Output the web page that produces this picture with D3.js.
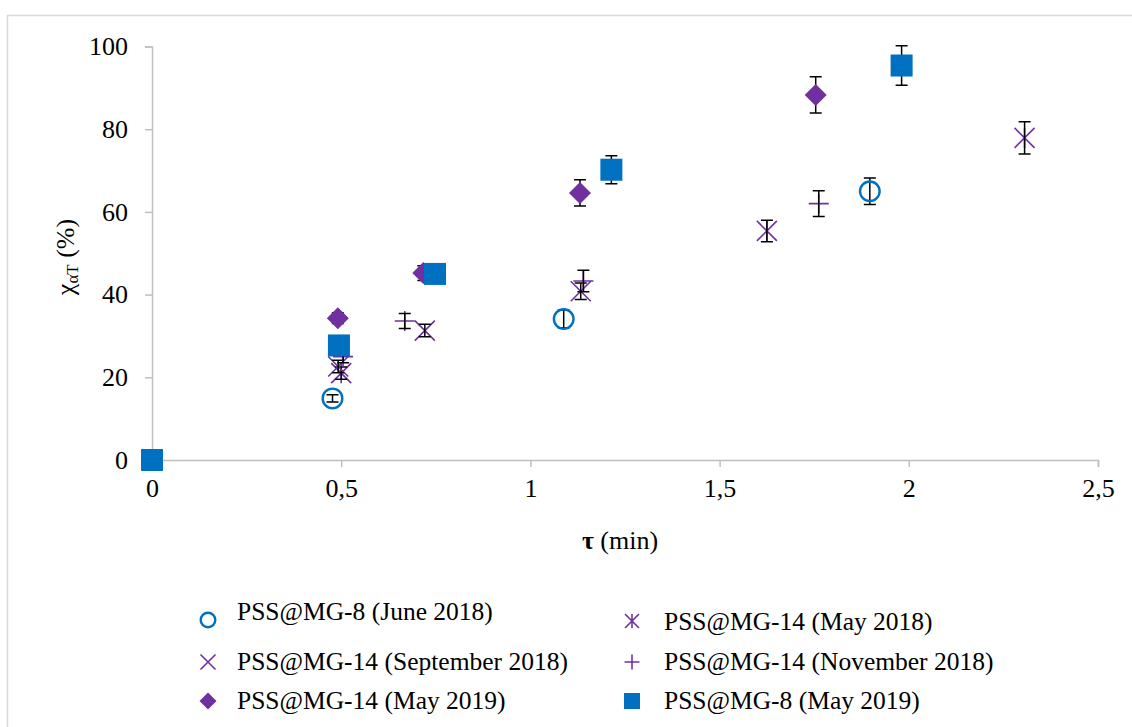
<!DOCTYPE html>
<html><head><meta charset="utf-8">
<script src="https://cdn.jsdelivr.net/npm/d3@7"></script>
<style>body{margin:0;background:#fff}
svg text, svg tspan{font-family:'Liberation Serif', serif !important}
</style>
</head><body><svg id="c" width="1132" height="727"></svg>
<script>
// Data
const seriesNames = ["PSS@MG-8 (June 2018)","PSS@MG-14 (May 2018)","PSS@MG-14 (September 2018)","PSS@MG-14 (November 2018)","PSS@MG-14 (May 2019)","PSS@MG-8 (May 2019)"];
const circleJun18 = [{x:0.477,y:14.9,e:0.9},{x:1.088,y:34.1,e:2.1},{x:1.897,y:65.0,e:3.2}];
const asteriskMay18 = [{x:0.50,y:21.0,e:1.5},{x:1.625,y:55.4,e:2.6},{x:2.306,y:77.9,e:3.9}];
const xSep18 = [{x:0.492,y:22.6,e:1.5},{x:0.721,y:31.3,e:1.5},{x:1.133,y:40.8,e:2.0}];
const plusNov18 = [{x:0.505,y:25.0,e:1.5},{x:0.668,y:33.6,e:1.8},{x:1.14,y:43.3,e:2.6},{x:1.762,y:62.0,e:3.1}];
const diamondMay19 = [{x:0.491,y:34.3,e:1.3},{x:0.717,y:45.2,e:1.8},{x:1.131,y:64.6,e:3.2},{x:1.754,y:88.3,e:4.4}];
const squareMay19 = [{x:0,y:0,e:0},{x:0.494,y:27.7,e:1.5},{x:0.748,y:45.0,e:1.5},{x:1.214,y:70.2,e:3.4},{x:1.981,y:95.4,e:4.8}];
const xTicks = [0,0.5,1,1.5,2,2.5];
const yTicks = [0,20,40,60,80,100];

const SERIF="'Liberation Serif', serif";
const blue="#0070c0", purple="#7030a0";
const svg=d3.select("#c");
svg.append("rect").attr("x",7.5).attr("y",15.5).attr("width",1140).attr("height",740).attr("fill","none").attr("stroke","#d9d9d9").attr("stroke-width",1.5);

const x=d3.scaleLinear().domain([0,2.5]).range([152,1098]);
const y=d3.scaleLinear().domain([0,100]).range([460,46.5]);

const axC="#bfbfbf";
const gx=svg.append("g").attr("transform","translate(0,460)").call(d3.axisBottom(x).tickValues(xTicks).tickSize(7).tickPadding(12).tickFormat(d=>String(d).replace(".",",")));
const gy=svg.append("g").attr("transform","translate(152,0)").call(d3.axisLeft(y).tickValues(yTicks).tickSize(7).tickPadding(17));
[gx,gy].forEach(g=>{g.attr("font-family",SERIF).attr("font-size",26);g.select(".domain").attr("stroke",axC).attr("stroke-width",1.5);g.selectAll(".tick line").attr("stroke",axC).attr("stroke-width",1.5);g.selectAll("text").attr("fill","#000").style("font-family",SERIF).style("font-size","26px");});
gx.select(".tick line").remove();
gy.selectAll(".tick").filter(d=>d===0).select("line").remove();

// axis titles
const xt=svg.append("text").attr("x",620).attr("y",549).attr("text-anchor","middle").style("font-family",SERIF).style("font-size","26px");
xt.append("tspan").attr("font-weight","bold").text("τ");
xt.append("tspan").text(" (min)");
const yt=svg.append("text").attr("transform","translate(74,257) rotate(-90)").attr("text-anchor","middle").style("font-family",SERIF).style("font-size","26px");
yt.append("tspan").text("χ");
yt.append("tspan").style("font-size","17px").attr("dy",4).text("αT");
yt.append("tspan").attr("dy",-4).text(" (%)");

// markers
function drawMarker(g,type,cx,cy,s){
  const h=s/2;
  if(type==="circle") g.append("circle").attr("cx",cx).attr("cy",cy).attr("r",h-1.2).attr("fill","none").attr("stroke",blue).attr("stroke-width",2.4);
  else if(type==="square") g.append("rect").attr("x",cx-h).attr("y",cy-h).attr("width",s).attr("height",s).attr("fill",blue);
  else if(type==="diamond") g.append("path").attr("d",`M${cx},${cy-h}L${cx+h},${cy}L${cx},${cy+h}L${cx-h},${cy}Z`).attr("fill",purple);
  else if(type==="x"||type==="asterisk"){
    g.append("path").attr("d",`M${cx-h},${cy-h}L${cx+h},${cy+h}M${cx-h},${cy+h}L${cx+h},${cy-h}`+(type==="asterisk"?`M${cx},${cy-h}L${cx},${cy+h}`:"")).attr("stroke",purple).attr("stroke-width",1.6).attr("fill","none");
  } else if(type==="plus"){
    g.append("path").attr("d",`M${cx-h},${cy}L${cx+h},${cy}M${cx},${cy-h}L${cx},${cy+h}`).attr("stroke",purple).attr("stroke-width",1.6).attr("fill","none");
  }
}
const series=[
  {data:circleJun18,type:"circle",size:22},
  {data:asteriskMay18,type:"asterisk",size:20},
  {data:xSep18,type:"x",size:20},
  {data:plusNov18,type:"plus",size:20},
  {data:diamondMay19,type:"diamond",size:22},
  {data:squareMay19,type:"square",size:22}
];
const plot=svg.append("g");
series.forEach(s=>{
  const g=plot.append("g");
  s.data.forEach(d=>{
    if(s.type==="plus"||s.type==="x"||s.type==="asterisk") drawMarker(g,s.type,x(d.x),y(d.y),s.size);
    if(d.e>0){
      const cx=x(d.x),y1=y(d.y+d.e),y2=y(d.y-d.e);
      g.append("path").attr("d",`M${cx},${y1}L${cx},${y2}M${cx-6},${y1}L${cx+6},${y1}M${cx-6},${y2}L${cx+6},${y2}`).attr("stroke","#000").attr("stroke-width",1.5).attr("fill","none");
    }
    if(!(s.type==="plus"||s.type==="x"||s.type==="asterisk")) drawMarker(g,s.type,x(d.x),y(d.y),s.size);
  });
});

// legend
const legPos=[[208,620,237,611],[632,621,664,621],[208,662,237,661],[632,662,664,661],[208,701,237,700],[632,701,664,700]];
const legSize={circle:17,asterisk:14,x:15,plus:15,diamond:17,square:16};
series.forEach((s,i)=>{
  const p=legPos[i];
  drawMarker(svg.append("g"),s.type,p[0],p[1],legSize[s.type]);
  svg.append("text").attr("x",p[2]).attr("y",p[3]).attr("dy","0.35em").attr("fill","#000").style("font-family",SERIF).style("font-size","25.5px").text(seriesNames[i]);
});
</script></body></html>
